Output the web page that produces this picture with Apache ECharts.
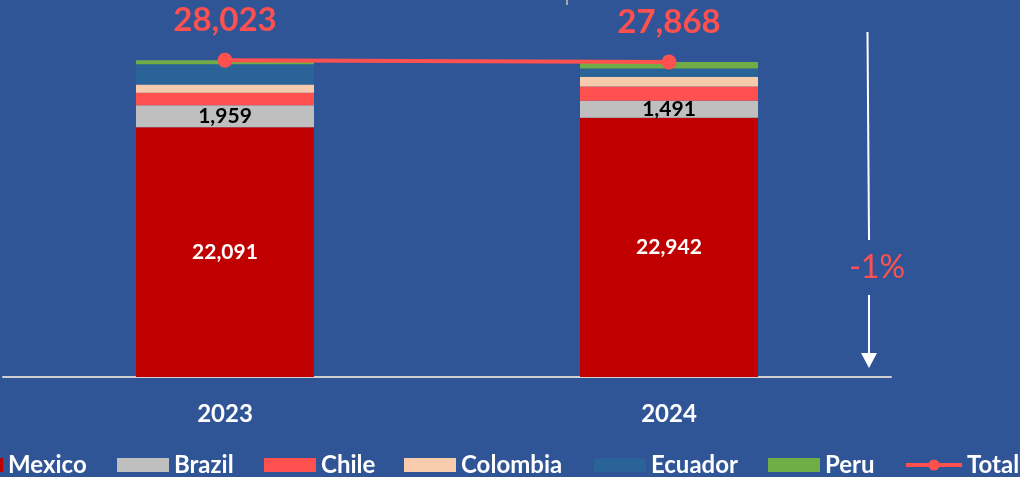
<!DOCTYPE html>
<html>
<head>
<meta charset="utf-8">
<script src="https://cdn.jsdelivr.net/npm/echarts@6/dist/echarts.min.js"></script>
<style>
  html, body { margin: 0; padding: 0; background: #2F5597; }
  #chart { width: 1020px; height: 477px; }
</style>
</head>
<body>
<div id="chart"></div>
<script>
// Yearly volume by country, stacked, with the overall total on top
const categories = ['2023', '2024'];
const mexico   = [22091, 22942];
const brazil   = [1959, 1491];
const chile    = [1090, 1270];
const colombia = [740, 850];
const ecuador  = [1795, 740];
const peru     = [348, 575];
const total    = [28023, 27868];

const FONT = 'Lato';
const fmt = v => Number(v).toLocaleString('en-US');

const colors = {
  Mexico: '#C00000', Brazil: '#BFBFBF', Chile: '#FF5050',
  Colombia: '#F8CBAD', Ecuador: '#2A6398', Peru: '#70AD47', Total: '#FF5050'
};

function barSeries(name, data, label) {
  return {
    name, type: 'bar', stack: 'all', data,
    barWidth: 178,
    itemStyle: { color: colors[name] },
    label: label || { show: false },
    emphasis: { disabled: true }
  };
}

const change = Math.round((total[1] - total[0]) / total[0] * 100);
const changeText = (change > 0 ? '+' : '') + change + '%';

// Each legend entry is placed on its own so the row spacing stays fixed
const legendSpots = [
  ['Mexico', -49], ['Brazil', 117], ['Chile', 264], ['Colombia', 404],
  ['Ecuador', 594], ['Peru', 768], ['Total', 904]
];
const legends = legendSpots.map(([name, left]) => {
  const lg = {
    data: [name],
    left, top: 452, padding: 0,
    itemWidth: name === 'Total' ? 56 : 52,
    itemHeight: 14,
    selectedMode: false,
    textStyle: { color: '#FFFFFF', fontFamily: FONT, fontWeight: 'bold', fontSize: 24, lineHeight: 26 }
  };
  if (name === 'Total') {
    lg.lineStyle = { width: 4 };
  } else {
    lg.icon = 'rect';
  }
  return lg;
});

const option = {
  backgroundColor: '#2F5597',
  animation: false,
  grid: { left: 3, right: 129, top: 4, bottom: 100, containLabel: false },
  legend: legends,
  xAxis: {
    type: 'category', data: categories,
    axisLine: { lineStyle: { color: '#D0D0D0', width: 2 } },
    axisTick: { show: false },
    axisLabel: { color: '#FFFFFF', fontFamily: FONT, fontWeight: 'bold', fontSize: 24, lineHeight: 24, margin: 25 }
  },
  yAxis: { type: 'value', min: 0, max: 33000, show: false, splitLine: { show: false } },
  series: [
    barSeries('Mexico', mexico, {
      show: true, position: 'inside', color: '#FFFFFF',
      fontFamily: FONT, fontWeight: 'bold', fontSize: 21, formatter: p => fmt(p.value)
    }),
    barSeries('Brazil', brazil, {
      show: true, position: 'inside', color: '#000000',
      fontFamily: FONT, fontWeight: 'bold', fontSize: 21, formatter: p => fmt(p.value)
    }),
    barSeries('Chile', chile),
    barSeries('Colombia', colombia),
    barSeries('Ecuador', ecuador),
    barSeries('Peru', peru),
    {
      name: 'Total', type: 'line', data: total, z: 5,
      symbol: 'circle', symbolSize: 15,
      lineStyle: { color: colors.Total, width: 4 },
      itemStyle: { color: colors.Total },
      label: {
        show: true, position: 'top', distance: 15,
        color: '#FF5050', fontFamily: FONT, fontWeight: 'bold', fontSize: 33, lineHeight: 34,
        formatter: p => fmt(p.value)
      },
      emphasis: { disabled: true }
    }
  ],
  graphic: [
    { type: 'line', shape: { x1: 567, y1: 0, x2: 567, y2: 5 }, style: { stroke: '#A6A6A6', lineWidth: 2 } },
    { type: 'line', shape: { x1: 867.5, y1: 32, x2: 869, y2: 240 }, style: { stroke: '#FFFFFF', lineWidth: 2 } },
    { type: 'line', shape: { x1: 869, y1: 295, x2: 869, y2: 356 }, style: { stroke: '#FFFFFF', lineWidth: 2 } },
    { type: 'polygon', shape: { points: [[861, 353], [877, 353], [869, 368]] }, style: { fill: '#FFFFFF' } },
    {
      type: 'text', x: 877, y: 268,
      style: {
        text: changeText, fill: '#FF5050', font: '32px ' + FONT,
        textAlign: 'center', textVerticalAlign: 'middle'
      }
    }
  ]
};

const chart = echarts.init(document.getElementById('chart'), null, { renderer: 'canvas' });
chart.setOption(option);
</script>
</body>
</html>
